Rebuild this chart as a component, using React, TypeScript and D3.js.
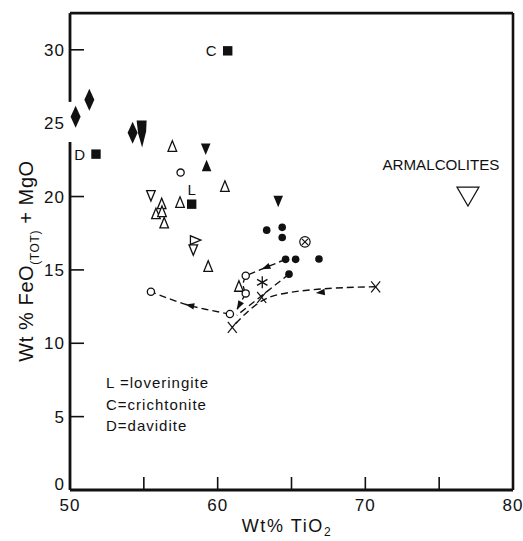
import React from "react";
import * as d3 from "d3";

// ---- data (Wt% TiO2, Wt% FeO(TOT)+MgO) ----
const filledDiamonds: [number, number][] = [[50.38, 25.43], [51.31, 26.6], [54.24, 24.34]];
const filledKites: [number, number][] = [[54.85, 24.3]];
const filledSquares: [number, number][] = [[51.76, 22.89], [60.68, 29.93], [58.24, 19.48]];
const squareLabels: string[] = ["D", "C", "L"];
const openTriangles: [number, number][] = [
  [56.93, 23.39], [60.49, 20.66], [57.45, 19.57], [56.21, 19.48], [55.82, 18.8],
  [56.23, 18.94], [56.38, 18.17], [59.36, 15.21], [61.44, 13.85],
];
const openInvTriangles: [number, number][] = [[55.48, 20.1], [58.35, 16.4]];
const openSideTriangles: [number, number][] = [[58.46, 17.03]];
const filledTriangles: [number, number][] = [[59.25, 22.07]];
const filledInvTriangles: [number, number][] = [[59.19, 23.28], [64.1, 19.71]];
const filledCircles: [number, number][] = [
  [63.32, 17.71], [64.37, 17.9], [64.37, 17.21], [64.6, 15.72], [65.28, 15.72], [66.86, 15.74], [64.83, 14.71],
];
const circleCross: [number, number][] = [[65.91, 16.91]];
const openCircles: [number, number][] = [[57.49, 21.63], [61.9, 14.6], [61.9, 13.4], [60.83, 11.99], [55.48, 13.51]];
const asterisks: [number, number][] = [[63.02, 14.15]];
const crosses: [number, number][] = [[62.98, 13.13], [60.99, 11.08], [70.7, 13.85]];
const armalcolites: [number, number][] = [[76.95, 20.0]];

const pathA: [number, number][] = [[64.6, 15.72], [61.9, 14.6]];
const pathB: [number, number][] = [[61.9, 14.6], [61.72, 14.0], [61.9, 13.4]];
const pathC: [number, number][] = [[61.9, 13.4], [61.2, 12.1]];
const pathD: [number, number][] = [[60.83, 11.99], [58.0, 12.6], [55.48, 13.51]];
const pathE: [number, number][] = [[70.7, 13.85], [63.4, 13.1], [60.99, 11.08]];
const pathG: [number, number][] = [[64.83, 14.71], [61.3, 11.9]];
const arrowPositions: (number | null)[] = [0.5, null, 0.65, 0.5, 0.36, null];
const paths = [pathA, pathB, pathC, pathD, pathE, pathG];

const xTicks: number[] = [55, 60, 65, 70, 75];
const xTickLabels: number[] = [50, 60, 70, 80];
const yTicks: number[] = [5, 10, 15, 20, 25, 30];
const yTickLabels: number[] = [0, 5, 10, 15, 20, 25, 30];
const legendLines: string[] = ["L =loveringite", "C=crichtonite", "D=davidite"];

const W = 523, H = 541;
const sx = d3.scaleLinear().domain([50, 80]).range([70, 513]);
const sy = d3.scaleLinear().domain([0, 30]).range([490, 49.8]);
const yTop = 32.5;
const gapLo = 23.72, gapHi = 26.45;
const FONT = "'Liberation Sans', Arial, sans-serif";
const INK = "#111";

function poly(cx: number, cy: number, pts: [number, number][]) {
  return "M" + pts.map(([a, b]) => `${cx + a},${cy + b}`).join("L") + "Z";
}

function arrowHead(pts: [number, number][], t: number) {
  const px = pts.map(([a, b]) => [sx(a), sy(b)] as [number, number]);
  const lens: number[] = [];
  let total = 0;
  for (let i = 1; i < px.length; i++) {
    const l = Math.hypot(px[i][0] - px[i - 1][0], px[i][1] - px[i - 1][1]);
    lens.push(l);
    total += l;
  }
  let target = total * t;
  let i = 0;
  while (i < lens.length - 1 && target > lens[i]) { target -= lens[i]; i++; }
  const [x0, y0] = px[i], [x1, y1] = px[i + 1];
  const f = target / lens[i];
  const x = x0 + (x1 - x0) * f, y = y0 + (y1 - y0) * f;
  const ang = Math.atan2(y1 - y0, x1 - x0);
  const L = 9, Wd = 3.2;
  const c = Math.cos(ang), s = Math.sin(ang);
  const tip = [x + c * L / 2, y + s * L / 2];
  const b1 = [x - c * L / 2 - s * Wd, y - s * L / 2 + c * Wd];
  const b2 = [x - c * L / 2 + s * Wd, y - s * L / 2 - c * Wd];
  return `M${tip[0]},${tip[1]}L${b1[0]},${b1[1]}L${b2[0]},${b2[1]}Z`;
}

export default function App() {
  const line = d3.line<[number, number]>().x((d) => sx(d[0])).y((d) => sy(d[1])).curve(d3.curveCatmullRom);
  const openStyle = { fill: "white", stroke: INK, strokeWidth: 1.3 };
  return (
    <svg width={W} height={H} style={{ display: "block", position: "absolute", left: 0, top: 0, background: "white" }}>
      <rect x={0} y={0} width={W} height={H} fill="white" />
      {/* frame */}
      <line x1={sx(50)} x2={sx(80)} y1={sy(yTop)} y2={sy(yTop)} stroke={INK} strokeWidth={2.6} />
      <line x1={sx(80)} x2={sx(80)} y1={sy(yTop)} y2={sy(0)} stroke={INK} strokeWidth={2.6} />
      <line x1={sx(50)} x2={sx(80)} y1={sy(0)} y2={sy(0)} stroke={INK} strokeWidth={2.8} />
      <line x1={sx(50)} x2={sx(50)} y1={sy(yTop)} y2={sy(gapHi)} stroke={INK} strokeWidth={2.8} />
      <line x1={sx(50)} x2={sx(50)} y1={sy(gapLo)} y2={sy(0)} stroke={INK} strokeWidth={2.8} />
      {xTicks.map((t) => (
        <line key={"xt" + t} x1={sx(t)} x2={sx(t)} y1={sy(0)} y2={sy(0) - 13} stroke={INK} strokeWidth={1.6} />
      ))}
      {yTicks.filter((t) => t < gapLo || t > gapHi).map((t) => (
        <line key={"yt" + t} x1={sx(50)} x2={sx(50) + 14} y1={sy(t)} y2={sy(t)} stroke={INK} strokeWidth={1.6} />
      ))}
      {xTickLabels.map((t) => (
        <text key={"xl" + t} x={sx(t)} y={sy(0) + 21} textAnchor="middle" fontFamily={FONT} fontSize={17} letterSpacing={1} fill={INK}>{t}</text>
      ))}
      {yTickLabels.map((t) => (
        <text key={"yl" + t} x={sx(50) - 5} y={sy(t) + (t === 0 ? 0 : 6)} textAnchor="end" fontFamily={FONT} fontSize={17} letterSpacing={1} fill={INK}>{t}</text>
      ))}
      {/* axis titles */}
      <text x={287} y={532} textAnchor="middle" fontFamily={FONT} fontSize={18} letterSpacing={1.6} fill={INK}>
        Wt%  TiO<tspan fontSize={12} dy={4}>2</tspan>
      </text>
      <text transform={`translate(33,261) rotate(-90)`} textAnchor="middle" fontFamily={FONT} fontSize={20} letterSpacing={0.6} fill={INK}>
        Wt %  FeO<tspan fontSize={12} dy={6}>(TOT)</tspan><tspan dy={-6}> + MgO</tspan>
      </text>
      {/* legend */}
      {legendLines.map((s, i) => (
        <text key={"lg" + i} x={106} y={388 + i * 21.5} fontFamily={FONT} fontSize={15} letterSpacing={1} fill={INK}>{s}</text>
      ))}
      {/* paths */}
      {paths.map((p, i) => (
        <path key={"p" + i} d={line(p) || ""} fill="none" stroke={INK} strokeWidth={1.4} strokeDasharray="7 4" />
      ))}
      {paths.map((p, i) =>
        arrowPositions[i] == null ? null : <path key={"a" + i} d={arrowHead(p, arrowPositions[i] as number)} fill={INK} />
      )}
      {/* markers */}
      {filledDiamonds.map(([a, b], i) => (
        <path key={"fd" + i} d={poly(sx(a), sy(b), [[0, -11], [5, 0], [0, 11], [-5, 0]])} fill={INK} />
      ))}
      {filledKites.map(([a, b], i) => (
        <path key={"fk" + i} d={poly(sx(a), sy(b), [[-5, -13], [5, -13], [4.5, -2], [0.5, 14], [-3.5, 0]])} fill={INK} />
      ))}
      {filledSquares.map(([a, b], i) => (
        <g key={"fs" + i}>
          <rect x={sx(a) - 4.7} y={sy(b) - 4.7} width={9.4} height={9.4} fill={INK} />
          <text x={i === 2 ? sx(a) : sx(a) - 11} y={i === 2 ? sy(b) - 9 : sy(b) + 5.5} textAnchor={i === 2 ? "middle" : "end"}
            fontFamily={FONT} fontSize={15} fill={INK}>{squareLabels[i]}</text>
        </g>
      ))}
      {openTriangles.map(([a, b], i) => (
        <path key={"ot" + i} d={poly(sx(a), sy(b), [[0, -6], [4.3, 4.5], [-4.3, 4.5]])} {...openStyle} />
      ))}
      {openInvTriangles.map(([a, b], i) => (
        <path key={"oi" + i} d={poly(sx(a), sy(b), [[0, 6], [4.3, -4.5], [-4.3, -4.5]])} {...openStyle} />
      ))}
      {openSideTriangles.map(([a, b], i) => (
        <path key={"os" + i} d={poly(sx(a), sy(b), [[6, 0], [-4.5, -4.3], [-4.5, 4.3]])} {...openStyle} />
      ))}
      {filledTriangles.map(([a, b], i) => (
        <path key={"ft" + i} d={poly(sx(a), sy(b), [[0, -6.5], [4.8, 5], [-4.8, 5]])} fill={INK} />
      ))}
      {filledInvTriangles.map(([a, b], i) => (
        <path key={"fi" + i} d={poly(sx(a), sy(b), [[0, 6.5], [4.8, -5], [-4.8, -5]])} fill={INK} />
      ))}
      {filledCircles.map(([a, b], i) => (
        <circle key={"fc" + i} cx={sx(a)} cy={sy(b)} r={3.8} fill={INK} />
      ))}
      {circleCross.map(([a, b], i) => (
        <g key={"cc" + i} stroke={INK} strokeWidth={1.2} fill="white">
          <circle cx={sx(a)} cy={sy(b)} r={5.2} />
          <line x1={sx(a) - 3} x2={sx(a) + 3} y1={sy(b) - 3} y2={sy(b) + 3} />
          <line x1={sx(a) - 3} x2={sx(a) + 3} y1={sy(b) + 3} y2={sy(b) - 3} />
        </g>
      ))}
      {openCircles.map(([a, b], i) => (
        <circle key={"oc" + i} cx={sx(a)} cy={sy(b)} r={3.6} {...openStyle} />
      ))}
      {asterisks.map(([a, b], i) => (
        <g key={"as" + i} stroke={INK} strokeWidth={1.3}>
          {[90, 30, 150].map((deg) => {
            const r = 6, c = Math.cos((deg * Math.PI) / 180), s = Math.sin((deg * Math.PI) / 180);
            return <line key={deg} x1={sx(a) - c * r} x2={sx(a) + c * r} y1={sy(b) - s * r} y2={sy(b) + s * r} />;
          })}
        </g>
      ))}
      {crosses.map(([a, b], i) => (
        <g key={"x" + i} stroke={INK} strokeWidth={1.2}>
          <line x1={sx(a) - 4.5} x2={sx(a) + 4.5} y1={sy(b) - 5.5} y2={sy(b) + 5.5} />
          <line x1={sx(a) - 4.5} x2={sx(a) + 4.5} y1={sy(b) + 5.5} y2={sy(b) - 5.5} />
        </g>
      ))}
      {armalcolites.map(([a, b], i) => (
        <g key={"am" + i}>
          <path d={poly(sx(a), sy(b), [[-11, -9.5], [11, -9.5], [0, 9.5]])} fill="none" stroke={INK} strokeWidth={1.2} />
          <text x={sx(a) - 27} y={sy(b) - 27} textAnchor="middle" fontFamily={FONT} fontSize={14} textLength={117}
            lengthAdjust="spacingAndGlyphs" fill={INK}>ARMALCOLITES</text>
        </g>
      ))}
    </svg>
  );
}
